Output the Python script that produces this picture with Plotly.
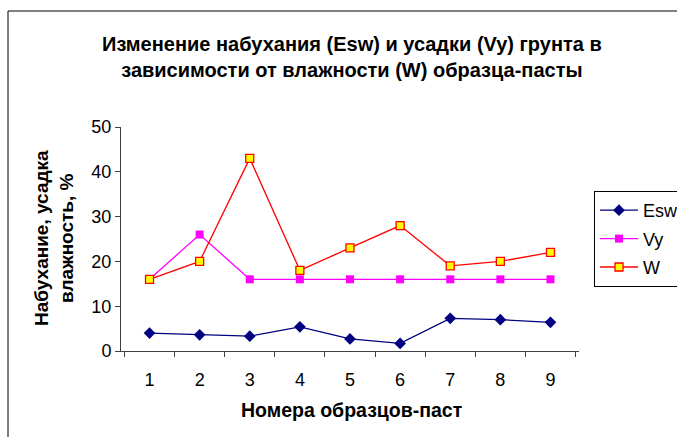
import plotly.graph_objects as go

categories = ["1", "2", "3", "4", "5", "6", "7", "8", "9"]
esw = [4.0, 3.6, 3.3, 5.4, 2.7, 1.7, 7.3, 7.0, 6.4]
vy = [16, 26, 16, 16, 16, 16, 16, 16, 16]
w = [16, 20, 43, 18, 23, 28, 19, 20, 22]
series_names = ["Esw", "Vy", "W"]

W_PX, H_PX = 677, 437
# plot area in pixel coordinates: x 121..579, y 127..351
L, T = 121, 127
R = W_PX - 579
B = H_PX - 351
pw = W_PX - L - R
ph = H_PX - T - B

def px_x(x):
    return (x - L) / pw

def px_y(y):
    return (H_PX - B - y) / ph

font = "Liberation Sans, Arial, sans-serif"
pad = "\u00a0" * 6  # legend box runs off the right edge as in the reference

fig = go.Figure()
fig.add_trace(go.Scatter(x=categories, y=esw, name=series_names[0] + pad, mode="lines+markers",
                         line=dict(color="#000080", width=1.3),
                         marker=dict(symbol="diamond", size=9, color="#000080"),
                         legendgroup="a"))
fig.add_trace(go.Scatter(x=categories, y=vy, name=series_names[1], mode="lines+markers",
                         line=dict(color="#FF00FF", width=1.3),
                         marker=dict(symbol="square", size=8, color="#FF00FF"),
                         legendgroup="b"))
fig.add_trace(go.Scatter(x=categories, y=w, name=series_names[2], mode="lines+markers",
                         line=dict(color="#FF0000", width=1.3),
                         marker=dict(symbol="square", size=8, color="#FFFF00",
                                     line=dict(color="#FF0000", width=1.3)),
                         legendgroup="c"))

fig.update_layout(
    width=W_PX, height=H_PX,
    margin=dict(l=L, r=R, t=T, b=B, autoexpand=False),
    paper_bgcolor="white", plot_bgcolor="white",
    font=dict(family=font, size=18, color="black"),
    showlegend=True,
    legend=dict(x=px_x(594), y=px_y(191), xanchor="left", yanchor="top",
                bordercolor="black", borderwidth=1, bgcolor="white",
                font=dict(size=18), tracegroupgap=2, itemwidth=38),
    xaxis=dict(type="category", showline=True, linecolor="#404040", linewidth=1,
               ticks="outside", tickson="boundaries", ticklen=5, tickcolor="#404040",
               showgrid=False, zeroline=False, tickfont=dict(size=18),
               ticklabelstandoff=12),
    yaxis=dict(range=[0, 50], dtick=10, showline=True, linecolor="#404040", linewidth=1,
               ticks="outside", ticklen=5, tickcolor="#404040",
               showgrid=False, zeroline=False, tickfont=dict(size=18)),
    annotations=[
        dict(text="<b>Изменение набухания (Esw) и усадки (Vy) грунта в<br>зависимости от влажности (W) образца-пасты</b>",
             xref="paper", yref="paper", x=px_x(352), y=px_y(57), xanchor="center", yanchor="middle",
             showarrow=False, font=dict(size=20), align="center"),
        dict(text="<b>Набухание, усадка<br>влажность, %</b>",
             xref="paper", yref="paper", x=px_x(54), y=px_y(238), xanchor="center", yanchor="middle",
             showarrow=False, font=dict(size=19), textangle=-90, align="center"),
        dict(text="<b>Номера образцов-паст</b>",
             xref="paper", yref="paper", x=px_x(351), y=px_y(410), xanchor="center", yanchor="middle",
             showarrow=False, font=dict(size=19.5)),
    ],
    shapes=[dict(type="rect", xref="paper", yref="paper",
                 x0=px_x(8), x1=px_x(720), y0=px_y(480), y1=px_y(11),
                 line=dict(color="black", width=1), fillcolor="rgba(0,0,0,0)", layer="below")],
)

post = ("document.documentElement.style.margin='0';document.body.style.margin='0';"
        "document.documentElement.style.overflow='hidden';document.body.style.overflow='hidden';")
fig.write_html("out.html", post_script=post, config={"displayModeBar": False})
